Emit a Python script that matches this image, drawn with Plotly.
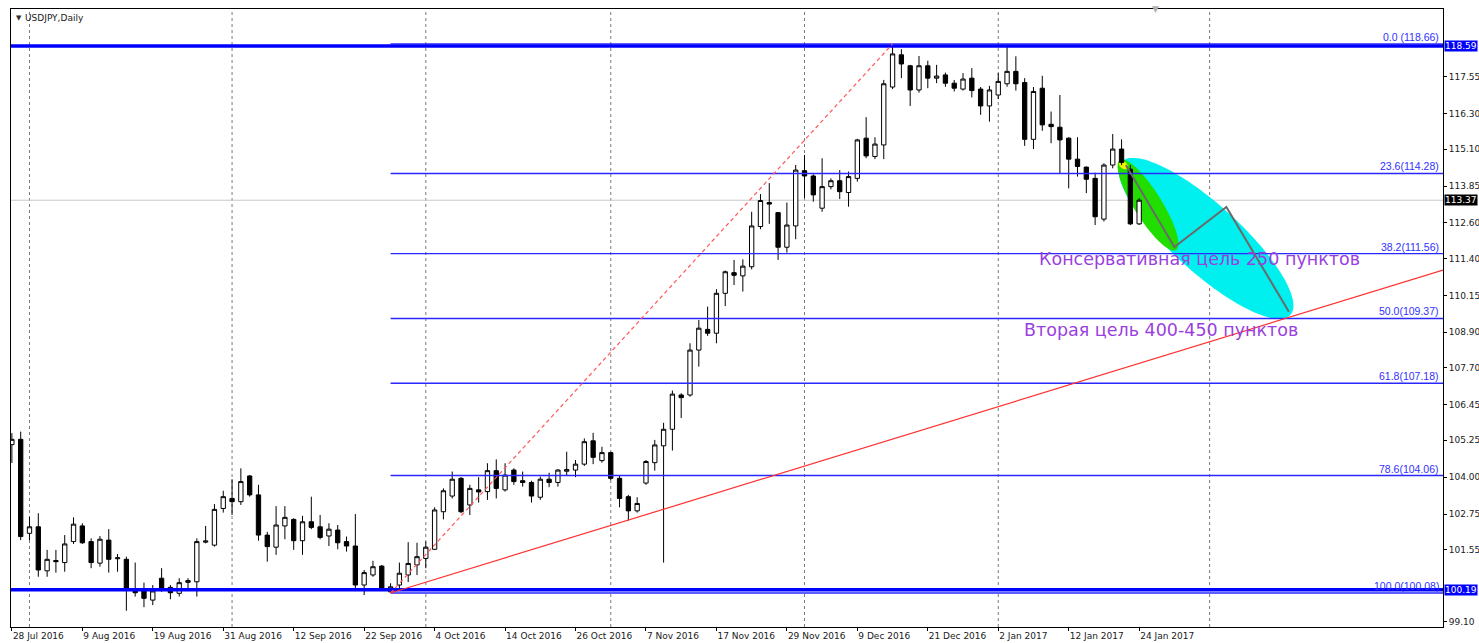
import numpy as np
import pandas as pd
import plotly.graph_objects as go

# ---------------- data ----------------
dates = pd.bdate_range("2016-07-28", "2017-01-24")  # daily bars, 129 bars

opens = [105.10, 105.28, 102.10, 102.32, 100.83, 101.18, 101.11, 101.82, 102.35, 101.82,
         101.09, 101.87, 101.24, 101.22, 100.21, 100.16, 99.84, 100.58, 100.27, 100.07,
         100.44, 100.46, 101.80, 101.70, 102.94, 103.28, 103.17, 104.04, 103.40, 102.04,
         101.63, 102.35, 102.57, 101.85, 102.49, 102.32, 102.01, 102.21, 101.82, 101.67,
         100.35, 100.69, 100.99, 100.12, 100.35, 100.69, 101.03, 101.25, 101.56, 102.83,
         103.36, 103.96, 103.06, 103.57, 103.51, 104.22, 103.57, 104.24, 103.88, 103.82,
         103.32, 103.93, 103.82, 104.20, 104.24, 104.44, 105.23, 104.56, 104.83, 103.96,
         103.34, 102.86, 103.80, 104.49, 105.06, 105.62, 106.78, 106.78, 108.30, 109.00,
         108.87, 110.22, 110.92, 110.81, 111.12, 112.48, 113.29, 112.95, 111.78, 112.50,
         114.37, 114.19, 113.10, 113.83, 114.03, 113.63, 114.11, 115.47, 114.85, 115.24,
         117.20, 118.29, 117.92, 117.10, 117.92, 117.50, 117.61, 117.33, 117.13, 117.50,
         117.13, 116.56, 116.93, 117.31, 117.73, 117.35, 115.43, 117.16, 115.94, 115.84,
         115.47, 114.76, 114.49, 114.11, 112.73, 114.56, 115.10, 114.42, 112.57]
highs = [105.49, 105.54, 102.66, 102.78, 101.54, 101.54, 102.04, 102.64, 102.44, 101.93,
         102.01, 102.24, 101.40, 101.31, 101.11, 100.43, 100.35, 100.92, 100.35, 100.58,
         100.58, 101.93, 102.35, 103.09, 103.54, 103.93, 104.30, 104.07, 103.74, 102.15,
         103.02, 103.02, 102.61, 102.69, 103.34, 102.72, 102.44, 102.38, 101.99, 102.75,
         100.86, 101.17, 101.03, 100.41, 101.11, 101.80, 101.78, 101.82, 102.98, 103.62,
         104.19, 104.00, 103.74, 104.00, 104.47, 104.60, 104.47, 104.30, 104.19, 103.88,
         104.02, 104.15, 104.27, 104.86, 104.58, 105.31, 105.50, 105.03, 104.86, 104.07,
         103.40, 103.32, 104.58, 105.26, 105.84, 106.93, 106.84, 108.53, 109.32, 109.77,
         110.36, 110.99, 111.35, 111.37, 112.98, 113.58, 113.95, 112.97, 113.29, 114.56,
         114.90, 114.25, 114.79, 114.11, 114.39, 114.34, 115.45, 116.18, 115.50, 117.44,
         118.66, 118.48, 117.95, 118.25, 118.09, 117.95, 117.69, 117.44, 117.67, 117.84,
         117.20, 117.24, 117.67, 118.60, 118.24, 117.50, 117.20, 117.58, 116.37, 116.93,
         115.50, 115.50, 114.51, 114.30, 114.62, 115.61, 115.43, 114.56, 113.44]
lows = [104.48, 101.87, 101.87, 100.63, 100.63, 100.77, 100.80, 101.74, 101.74, 100.92,
        100.97, 100.77, 100.80, 99.48, 99.96, 99.60, 99.67, 100.12, 99.87, 99.96,
        100.24, 99.96, 101.76, 101.65, 102.80, 102.72, 103.06, 103.34, 101.85, 101.14,
        101.37, 101.90, 101.54, 101.37, 102.24, 101.90, 101.67, 101.56, 101.48, 100.24,
        100.01, 100.63, 100.18, 100.08, 100.18, 100.45, 100.69, 100.92, 101.54, 102.57,
        103.28, 102.78, 102.72, 103.14, 103.23, 103.28, 103.51, 103.74, 103.68, 103.14,
        103.23, 103.66, 103.68, 104.07, 104.00, 104.38, 104.44, 104.49, 103.90, 102.98,
        102.53, 102.80, 103.74, 104.22, 101.11, 104.90, 106.00, 106.72, 107.74, 108.78,
        108.53, 109.79, 110.50, 110.28, 111.03, 112.39, 112.57, 111.35, 111.60, 112.05,
        113.44, 113.32, 112.98, 113.74, 113.41, 113.15, 114.00, 114.79, 114.76, 114.76,
        117.13, 117.50, 116.56, 117.01, 117.16, 117.33, 117.21, 117.05, 117.08, 116.85,
        116.26, 116.03, 116.79, 117.21, 117.08, 115.21, 115.10, 115.72, 115.30, 114.28,
        113.77, 114.17, 113.61, 112.53, 112.65, 114.45, 114.56, 112.53, 112.53]
closes = [105.28, 101.99, 102.32, 100.86, 101.22, 101.14, 101.74, 102.41, 101.78, 101.11,
          101.90, 101.22, 101.27, 100.21, 100.09, 99.90, 100.15, 100.24, 100.09, 100.43,
          100.50, 101.82, 101.84, 102.91, 103.34, 103.17, 103.85, 103.40, 102.04, 101.65,
          102.38, 102.64, 101.85, 102.49, 102.30, 101.96, 102.24, 101.78, 101.67, 100.35,
          100.77, 100.97, 100.24, 100.29, 100.75, 101.08, 101.31, 101.63, 102.89, 103.54,
          103.93, 102.83, 103.62, 103.50, 104.22, 103.62, 104.07, 103.85, 103.82, 103.36,
          103.93, 103.82, 104.24, 104.26, 104.44, 105.20, 104.67, 104.83, 103.96, 103.28,
          102.86, 103.11, 104.53, 105.09, 105.62, 106.81, 106.69, 108.30, 109.04, 108.87,
          110.22, 110.95, 110.83, 111.14, 112.50, 113.36, 113.24, 111.78, 112.53, 114.39,
          114.19, 113.55, 113.83, 114.03, 113.66, 114.17, 115.41, 114.87, 115.27, 117.31,
          118.32, 117.98, 117.10, 117.92, 117.50, 117.57, 117.33, 117.16, 117.47, 117.08,
          116.56, 117.10, 117.39, 117.73, 117.31, 115.43, 117.05, 115.92, 115.86, 115.41,
          114.76, 114.51, 114.08, 112.81, 114.56, 115.10, 114.65, 112.57, 113.37]

tick_labels = ["28 Jul 2016", "9 Aug 2016", "19 Aug 2016", "31 Aug 2016", "12 Sep 2016",
               "22 Sep 2016", "4 Oct 2016", "14 Oct 2016", "26 Oct 2016", "7 Nov 2016",
               "17 Nov 2016", "29 Nov 2016", "9 Dec 2016", "21 Dec 2016", "2 Jan 2017",
               "12 Jan 2017", "24 Jan 2017"]
price_ticks = [117.55, 116.30, 115.10, 113.85, 112.60, 111.40, 110.15, 108.90,
               107.70, 106.45, 105.25, 104.00, 102.75, 101.55, 99.10]

fib_high, fib_low = 118.66, 100.08
fib_levels = [0.0, 23.6, 38.2, 50.0, 61.8, 78.6, 100.0]
fib_low_date, fib_high_date = "2016-09-27", "2016-12-15"

hline_prices = [118.59, 100.19]
last_price = 113.37

trend_dates = ["2016-09-27", "2017-01-24"]
trend_prices = [100.08, 107.85]

# forecast drawings (bar offsets past the last bar, price)
zigzag_offsets = [-1.5, 4.0, 9.9, 17.0]
zigzag_prices = [114.55, 111.79, 113.14, 109.60]
cyan_ellipse = dict(center=(7.6, 112.08), axis_a=(17.2, 109.50), axis_b=(10.1, 112.95))
green_ellipse = dict(center=(1.0, 113.21), axis_a=(4.2, 111.69), axis_b=(2.3, 113.47))
yellow_ellipse = dict(center=(-1.8, 114.56), axis_a=(-1.35, 114.46), axis_b=(-1.6, 114.66))

text_conservative = "Консервативная цель 250 пунктов"
text_second = "Вторая цель 400-450 пунктов"

# ---------------- build ----------------
n = len(opens)
bars = list(range(n))
date_index = {d.strftime("%Y-%m-%d"): i for i, d in enumerate(dates)}
last_bar = n - 1
X_MAX = 162.5
X_MIN = -0.1
Y_MIN, Y_MAX = 98.93, 119.84

fig = go.Figure()

def ellipse_path(e):
    c = np.array([last_bar + e["center"][0], e["center"][1]])
    a = np.array([last_bar + e["axis_a"][0], e["axis_a"][1]]) - c
    b = np.array([last_bar + e["axis_b"][0], e["axis_b"][1]]) - c
    t = np.linspace(0, 2 * np.pi, 160)
    pts = c[None, :] + np.cos(t)[:, None] * a[None, :] + np.sin(t)[:, None] * b[None, :]
    return "M " + " L ".join(f"{p[0]:.4f},{p[1]:.4f}" for p in pts) + " Z"

shapes = []
# month grid (first bar of each month) + future Feb line
month_bars = [i for i in range(1, n) if dates[i].month != dates[i - 1].month]
month_bars += [136]
for b in month_bars:
    shapes.append(dict(type="line", xref="x", yref="paper", x0=b, x1=b, y0=0, y1=1,
                       line=dict(color="#7a7a7a", width=1, dash="dot"), layer="below"))
shapes.append(dict(type="line", xref="paper", yref="y", x0=0, x1=1, y0=last_price, y1=last_price,
                   line=dict(color="#c8c8c8", width=1), layer="below"))
shapes.append(dict(type="path", xref="x", yref="y", path=ellipse_path(cyan_ellipse),
                   fillcolor="#00f0f0", line=dict(width=0), layer="below"))
shapes.append(dict(type="path", xref="x", yref="y", path=ellipse_path(green_ellipse),
                   fillcolor="#22dd00", line=dict(width=0), layer="below"))
shapes.append(dict(type="path", xref="x", yref="y", path=ellipse_path(yellow_ellipse),
                   fillcolor="#f0f000", line=dict(width=0), layer="below"))

fig.add_trace(go.Candlestick(
    x=bars, open=opens, high=highs, low=lows, close=closes,
    increasing=dict(line=dict(color="black", width=1), fillcolor="white"),
    decreasing=dict(line=dict(color="black", width=1), fillcolor="black"),
    whiskerwidth=0, showlegend=False, hoverinfo="skip"))

# fibonacci lines
i_low = date_index[fib_low_date]
i_high = date_index[fib_high_date]
annotations = []
for lv in fib_levels:
    price = fib_high - (fib_high - fib_low) * lv / 100.0
    fig.add_trace(go.Scatter(x=[i_low, X_MAX], y=[price, price], mode="lines",
                             line=dict(color="#2828ff", width=1.4), showlegend=False, hoverinfo="skip"))
    sep = " " if lv == 0 else ""
    annotations.append(dict(xref="paper", yref="y", x=1, y=price, xanchor="right", yanchor="bottom",
                            xshift=-2, yshift=-1, showarrow=False,
                            text=f"{lv:.1f}{sep}({price:.2f})",
                            font=dict(family="Liberation Sans", size=10.5, color="#3030ff")))

# thick horizontal lines
for hp in hline_prices:
    fig.add_trace(go.Scatter(x=[X_MIN, X_MAX], y=[hp, hp], mode="lines",
                             line=dict(color="#0000ff", width=3.5), showlegend=False, hoverinfo="skip"))

# red dashed fib diagonal
fig.add_trace(go.Scatter(x=[i_low, i_high], y=[fib_low, fib_high], mode="lines",
                         line=dict(color="#ff5a5a", width=1.2, dash="4px,3px"),
                         showlegend=False, hoverinfo="skip"))
# red trend ray
t0, t1 = date_index[trend_dates[0]], date_index[trend_dates[1]]
slope = (trend_prices[1] - trend_prices[0]) / (t1 - t0)
fig.add_trace(go.Scatter(x=[t0, X_MAX], y=[trend_prices[0], trend_prices[0] + slope * (X_MAX - t0)],
                         mode="lines", line=dict(color="#ff3030", width=1.2),
                         showlegend=False, hoverinfo="skip"))
# zigzag forecast
fig.add_trace(go.Scatter(x=[last_bar + o for o in zigzag_offsets], y=zigzag_prices, mode="lines",
                         line=dict(color="#6a6a6a", width=2), showlegend=False, hoverinfo="skip"))

# texts
annotations.append(dict(xref="x", yref="y", x=116.4, y=111.38, xanchor="left", yanchor="middle",
                        showarrow=False, text=text_conservative,
                        font=dict(family="DejaVu Sans", size=17.5, color="#9a3fe0")))
annotations.append(dict(xref="x", yref="y", x=114.7, y=108.98, xanchor="left", yanchor="middle",
                        showarrow=False, text=text_second,
                        font=dict(family="DejaVu Sans", size=17.5, color="#9a3fe0")))
# title
annotations.append(dict(xref="paper", yref="paper", x=0, y=1, xanchor="left", yanchor="top",
                        xshift=3, yshift=-3, showarrow=False, text="▼",
                        font=dict(family="DejaVu Sans", size=7, color="#303030")))
annotations.append(dict(xref="paper", yref="paper", x=0, y=1, xanchor="left", yanchor="top",
                        xshift=12, yshift=-2, showarrow=False, text="USDJPY,Daily",
                        font=dict(family="DejaVu Sans", size=9, color="#202020")))
# chart-shift marker
annotations.append(dict(xref="x", yref="paper", x=129.8, y=1, xanchor="center", yanchor="middle",
                        showarrow=False, text="▼", font=dict(family="DejaVu Sans", size=9, color="#b0b0b0")))
# price tags on right axis
for val, bg in [(hline_prices[0], "#0000ff"), (last_price, "#000000"), (hline_prices[1], "#0000ff")]:
    annotations.append(dict(xref="paper", yref="y", x=1, y=val, xanchor="left", yanchor="middle",
                            xshift=1, showarrow=False, text=f"{val:.2f}", bgcolor=bg, borderpad=0,
                            font=dict(family="DejaVu Sans", size=9, color="white")))

fig.update_layout(
    width=1479, height=643,
    margin=dict(l=11, r=36, t=9, b=16, pad=0, autoexpand=False),
    paper_bgcolor="white", plot_bgcolor="white",
    shapes=shapes, annotations=annotations,
    showlegend=False,
    xaxis=dict(range=[X_MIN, X_MAX], rangeslider=dict(visible=False), showgrid=False, zeroline=False,
               automargin=False,
               tickvals=list(range(0, n, 8)), ticktext=tick_labels, ticks="outside", ticklen=3,
               tickcolor="black", ticklabelposition="outside right",
               tickfont=dict(family="DejaVu Sans", size=9, color="#202020"),
               showline=True, mirror=True, linecolor="black", linewidth=1),
    yaxis=dict(range=[Y_MIN, Y_MAX], side="right", showgrid=False, zeroline=False,
               automargin=False,
               tickvals=price_ticks, ticktext=[f"{v:.2f}" for v in price_ticks],
               ticks="outside", ticklen=3, tickcolor="black",
               tickfont=dict(family="DejaVu Sans", size=9, color="#202020"),
               showline=True, mirror=True, linecolor="black", linewidth=1),
)

fig.write_html("out.html", config={"displayModeBar": False},
               post_script="document.body.style.margin='0';")
